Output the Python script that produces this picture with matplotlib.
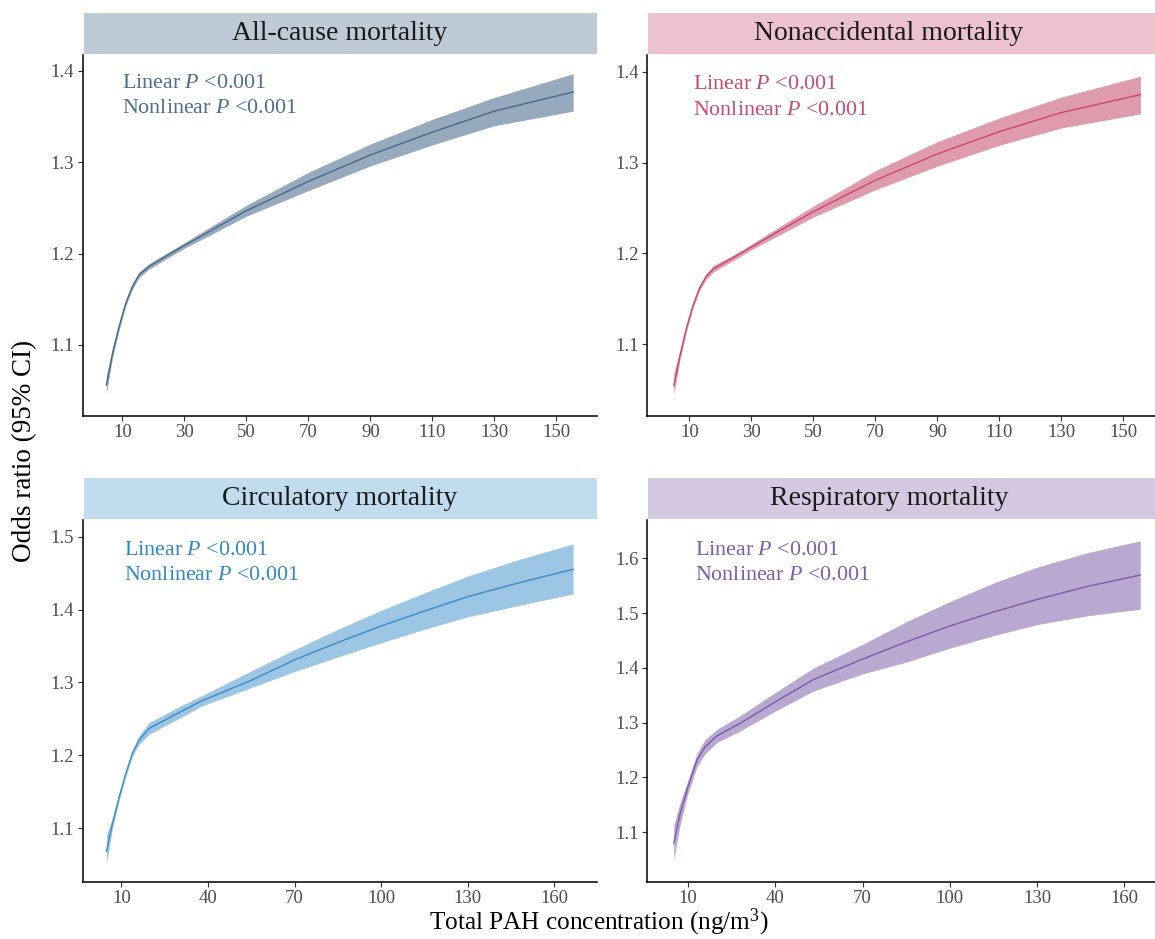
import matplotlib
matplotlib.use('Agg')
import matplotlib.pyplot as plt
from matplotlib.patches import Rectangle

plt.rcParams['font.family'] = ['Liberation Serif', 'DejaVu Serif']
plt.rcParams['mathtext.fontset'] = 'custom'
plt.rcParams['mathtext.rm'] = 'Liberation Serif'
plt.rcParams['mathtext.it'] = 'Liberation Serif:italic'

# ---------------- data ----------------
titles = ["All-cause mortality", "Nonaccidental mortality",
          "Circulatory mortality", "Respiratory mortality"]

x_all = [4.8, 6.8, 8.9, 11.1, 13.2, 15.4, 18.6, 24, 30, 35.3, 50, 70, 90, 110, 130, 155.5]
y_all = [1.056, 1.091, 1.120, 1.146, 1.164, 1.177, 1.186, 1.197, 1.209, 1.219, 1.247, 1.279, 1.308, 1.333, 1.356, 1.377]
lo_all = [1.047, 1.086, 1.116, 1.143, 1.161, 1.174, 1.183, 1.194, 1.206, 1.215, 1.241, 1.269, 1.296, 1.319, 1.340, 1.356]
hi_all = [1.066, 1.096, 1.124, 1.149, 1.167, 1.180, 1.189, 1.200, 1.212, 1.223, 1.253, 1.289, 1.320, 1.347, 1.371, 1.397]

x_non = [5.0, 7.0, 9.0, 11.2, 13.3, 15.5, 17.9, 24, 30, 35.5, 50, 70, 90, 110, 130, 155.5]
y_non = [1.0545, 1.088, 1.117, 1.143, 1.162, 1.175, 1.1835, 1.195, 1.207, 1.218, 1.246, 1.2805, 1.3095, 1.334, 1.355, 1.3747]
lo_non = [1.045, 1.083, 1.113, 1.140, 1.159, 1.172, 1.180, 1.192, 1.204, 1.214, 1.240, 1.270, 1.296, 1.319, 1.338, 1.3536]
hi_non = [1.068, 1.093, 1.121, 1.146, 1.165, 1.178, 1.187, 1.198, 1.210, 1.222, 1.252, 1.291, 1.323, 1.349, 1.372, 1.395]

x_cir = [4.8, 6.9, 9.2, 11.5, 13.8, 16.1, 19.6, 25.3, 31.1, 37.4, 55, 70, 85, 100, 115, 130, 148, 166.5]
y_cir = [1.068, 1.107, 1.143, 1.175, 1.203, 1.221, 1.237, 1.249, 1.261, 1.274, 1.303, 1.331, 1.355, 1.3775, 1.398, 1.4177, 1.437, 1.4553]
lo_cir = [1.052, 1.100, 1.138, 1.171, 1.199, 1.215, 1.229, 1.241, 1.253, 1.267, 1.293, 1.315, 1.335, 1.3545, 1.373, 1.390, 1.406, 1.4214]
hi_cir = [1.091, 1.114, 1.148, 1.179, 1.207, 1.227, 1.245, 1.257, 1.269, 1.281, 1.316, 1.345, 1.373, 1.399, 1.423, 1.446, 1.469, 1.490]

x_res = [5.1, 7.35, 10, 13.1, 15.9, 20, 28, 40, 53.2, 70, 85.3, 100, 115, 130, 147.1, 165.4]
y_res = [1.080, 1.135, 1.183, 1.232, 1.256, 1.276, 1.299, 1.338, 1.379, 1.416, 1.448, 1.4765, 1.502, 1.525, 1.5485, 1.5695]
lo_res = [1.050, 1.115, 1.171, 1.220, 1.243, 1.264, 1.285, 1.321, 1.358, 1.389, 1.411, 1.436, 1.459, 1.479, 1.495, 1.507]
hi_res = [1.113, 1.155, 1.195, 1.244, 1.269, 1.288, 1.313, 1.355, 1.400, 1.443, 1.485, 1.521, 1.555, 1.584, 1.610, 1.632]

xticks_top = [10, 30, 50, 70, 90, 110, 130, 150]
xticks_bottom = [10, 40, 70, 100, 130, 160]
yticks_all = [1.1, 1.2, 1.3, 1.4]
yticks_non = [1.1, 1.2, 1.3, 1.4]
yticks_cir = [1.1, 1.2, 1.3, 1.4, 1.5]
yticks_res = [1.1, 1.2, 1.3, 1.4, 1.5, 1.6]

annot_line1 = r"Linear $\mathit{P}$ <0.001"
annot_line2 = r"Nonlinear $\mathit{P}$ <0.001"

# ---------------- styling ----------------
line_colors = ["#47678c", "#c9466f", "#3a8bc8", "#7a5aa8"]
band_colors = ["#97a9bc", "#de9bad", "#9cc6e3", "#b9a8cf"]
text_colors = ["#4f6e91", "#c94b72", "#2f88c9", "#7c5fa9"]
strip_colors = ["#bfcad7", "#ecc2ce", "#c0dcee", "#d5c9e1"]

W, H = 1155, 939
fig = plt.figure(figsize=(W / 100, H / 100), dpi=100)
fig.patch.set_facecolor('white')

def fx(p):
    return p / W

def fy(p):
    return 1 - p / H

# pixel boxes: (left, top, right, bottom)
axes_boxes = [(82.5, 55, 597, 416), (647, 55, 1155, 416),
              (82.5, 520, 597, 882), (647, 520, 1155, 882)]
strip_boxes = [(83.5, 13, 597, 53.5), (648, 13, 1155, 53.5),
               (83.5, 478, 597, 519), (648, 478, 1155, 519)]
title_x = [340, 889, 340, 889]
title_base = [40, 40, 505, 505]
xlims = [(-2.9, 163.2), (-3.65, 160.2), (-3.5, 174.8), (-4.09, 170.5)]
ylims = [(1.0222, 1.4175), (1.0212, 1.4183), (1.0263, 1.5229), (1.009, 1.670)]
annot_x = [122, 693, 124, 695]
annot_base = [(88, 113), (89, 115), (555, 580), (555, 580)]

series = [(x_all, y_all, lo_all, hi_all, xticks_top, yticks_all),
          (x_non, y_non, lo_non, hi_non, xticks_top, yticks_non),
          (x_cir, y_cir, lo_cir, hi_cir, xticks_bottom, yticks_cir),
          (x_res, y_res, lo_res, hi_res, xticks_bottom, yticks_res)]

for i, (xs, ys, lo, hi, xt, yt) in enumerate(series):
    l, t, r, b = axes_boxes[i]
    ax = fig.add_axes([fx(l), fy(b), (r - l) / W, (b - t) / H])
    ax.fill_between(xs, lo, hi, color=band_colors[i], lw=0, zorder=1)
    ax.plot(xs, ys, color=line_colors[i], lw=1.0, zorder=2)
    ax.set_xlim(*xlims[i])
    ax.set_ylim(*ylims[i])
    ax.set_xticks(xt)
    ax.set_yticks(yt)
    ax.set_xticklabels([str(v) for v in xt])
    ax.set_yticklabels([f"{v:.1f}" for v in yt])
    for s in ['top', 'right']:
        ax.spines[s].set_visible(False)
    for s in ['left', 'bottom']:
        ax.spines[s].set_color('black')
        ax.spines[s].set_linewidth(1.1)
    ax.tick_params(axis='both', length=3.6, width=0.8, color='#333333',
                   labelcolor='#4d4d4d', labelsize=13.5, pad=2.5)
    ax.set_facecolor('white')

    sl, st, sr, sb = strip_boxes[i]
    fig.patches.append(Rectangle((fx(sl), fy(sb)), (sr - sl) / W, (sb - st) / H,
                                 transform=fig.transFigure, facecolor=strip_colors[i],
                                 edgecolor='none', zorder=0))
    fig.text(fx(title_x[i]), fy(title_base[i]), titles[i], ha='center', va='baseline',
             fontsize=20, color='#1a1a1a')

    fig.text(fx(annot_x[i]), fy(annot_base[i][0]), annot_line1, ha='left', va='baseline',
             fontsize=15.8, color=text_colors[i])
    fig.text(fx(annot_x[i]), fy(annot_base[i][1]), annot_line2, ha='left', va='baseline',
             fontsize=15.8, color=text_colors[i])

fig.text(fx(599), fy(929), r"Total PAH concentration (ng/m$^{3}$)", ha='center',
         va='baseline', fontsize=18.2, color='black')
fig.text(fx(25), fy(451), "Odds ratio (95% CI)", ha='center', va='center',
         rotation=90, fontsize=19.5, color='black')

fig.savefig('out.png', dpi=100, facecolor='white')
